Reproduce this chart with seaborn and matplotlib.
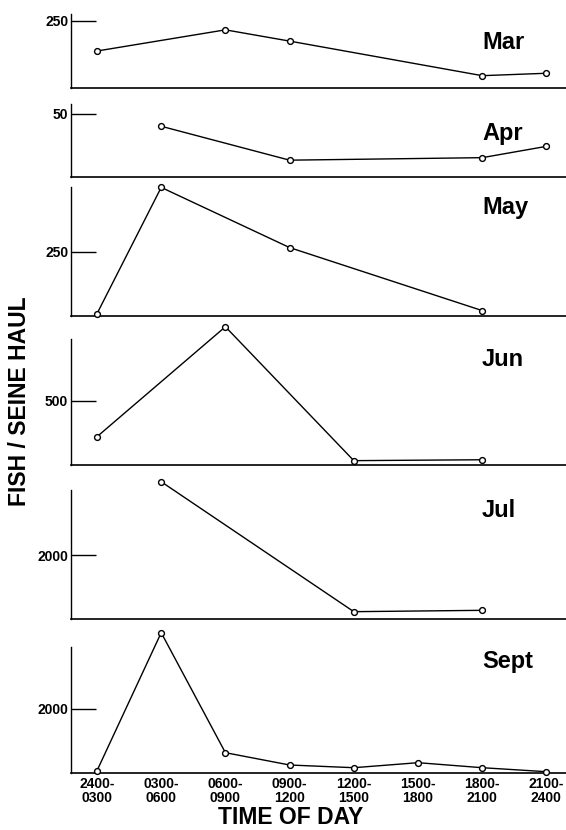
import matplotlib
matplotlib.use("Agg")
import matplotlib.pyplot as plt
import pandas as pd
import seaborn as sns

# Three-hour sampling periods along the x axis
time_slots = ["2400-\n0300", "0300-\n0600", "0600-\n0900", "0900-\n1200",
              "1200-\n1500", "1500-\n1800", "1800-\n2100", "2100-\n2400"]

# Mean catch per seine haul, by month (slot index -> fish)
mar_slots = [0, 2, 3, 6, 7]
mar_fish = [138, 217, 175, 46, 55]

apr_slots = [1, 3, 6, 7]
apr_fish = [40, 13, 15, 24]

may_slots = [0, 1, 3, 6]
may_fish = [9, 500, 266, 21]

jun_slots = [0, 2, 4, 6]
jun_fish = [221, 1080, 34, 41]

jul_slots = [1, 4, 6]
jul_fish = [4290, 229, 271]

sep_slots = [0, 1, 2, 3, 4, 5, 6, 7]
sep_fish = [81, 4373, 641, 258, 174, 330, 174, 50]

months = ["Mar", "Apr", "May", "Jun", "Jul", "Sept"]
y_ticks = [250, 50, 250, 500, 2000, 2000]
series = [(mar_slots, mar_fish), (apr_slots, apr_fish), (may_slots, may_fish),
          (jun_slots, jun_fish), (jul_slots, jul_fish), (sep_slots, sep_fish)]

# Panel geometry in pixels: (axis line y, top of axes, y-limit, left spine top,
#                            month label baseline)
W, H = 566, 830
panels = [
    (88.0, 8.0, 298.5, 276, 49),
    (176.5, 98.0, 62.5, 57.7, 140),
    (316.0, 182.0, 521, 500, 214),
    (465.0, 322.0, 1117, 982, 366),
    (619.0, 476.0, 4469, 4031, 517),
    (773.3, 627.0, 4550, 3937, 668),
]
x_left_px = 71
x_limits = (-0.405, 7.305)

sns.set_style("ticks")
plt.rcParams["font.family"] = ["Liberation Sans", "DejaVu Sans"]
plt.rcParams.update({
    "text.color": "black",
    "axes.labelcolor": "black",
    "axes.edgecolor": "black",
    "xtick.color": "black",
    "ytick.color": "black",
})

fig = plt.figure(figsize=(W / 100, H / 100), dpi=100)
fig.patch.set_facecolor("white")

for i, (month, tick, (slots, fish), geo) in enumerate(
        zip(months, y_ticks, series, panels)):
    base_px, top_px, ylim_top, spine_top, label_base = geo
    ax = fig.add_axes([x_left_px / W, 1 - base_px / H,
                       (W - x_left_px) / W, (base_px - top_px) / H])
    ax.patch.set_alpha(0)

    df = pd.DataFrame({"slot": slots, "fish": fish})
    sns.lineplot(data=df, x="slot", y="fish", ax=ax, color="black",
                 linewidth=1.0, marker="o", markersize=4.2,
                 markerfacecolor="white", markeredgecolor="black",
                 markeredgewidth=1.0, clip_on=False, zorder=5)

    ax.set_xlim(*x_limits)
    ax.set_ylim(0, ylim_top)
    ax.set(xlabel="", ylabel="")

    sns.despine(ax=ax)
    ax.spines["left"].set_bounds(0, spine_top)
    ax.spines["left"].set_linewidth(1.0)
    ax.spines["bottom"].set_linewidth(1.2)

    ax.set_yticks([tick])
    ax.set_yticklabels([str(tick)])
    ax.tick_params(axis="y", direction="in", length=18, width=1.0,
                   pad=2, labelsize=10, colors="black")
    for lab in ax.get_yticklabels():
        lab.set_fontweight("bold")

    ax.set_xticks(range(len(time_slots)))
    if i == len(months) - 1:
        ax.set_xticklabels(time_slots, linespacing=1.0)
        ax.tick_params(axis="x", length=0, pad=3, labelsize=10,
                       colors="black")
        for lab in ax.get_xticklabels():
            lab.set_fontweight("bold")
    else:
        ax.set_xticklabels([])
        ax.tick_params(axis="x", length=0)

    fig.text(482 / W, 1 - label_base / H, month, ha="left", va="baseline",
             fontsize=17, fontweight="bold")

fig.text(20 / W, 1 - 401 / H, "FISH / SEINE HAUL", rotation=90,
         ha="center", va="center", fontsize=16.5, fontweight="bold")
fig.text(291 / W, 1 - 829 / H, "TIME OF DAY", ha="center", va="bottom",
         fontsize=16.5, fontweight="bold")

fig.savefig("out.png", dpi=100, facecolor="white")
